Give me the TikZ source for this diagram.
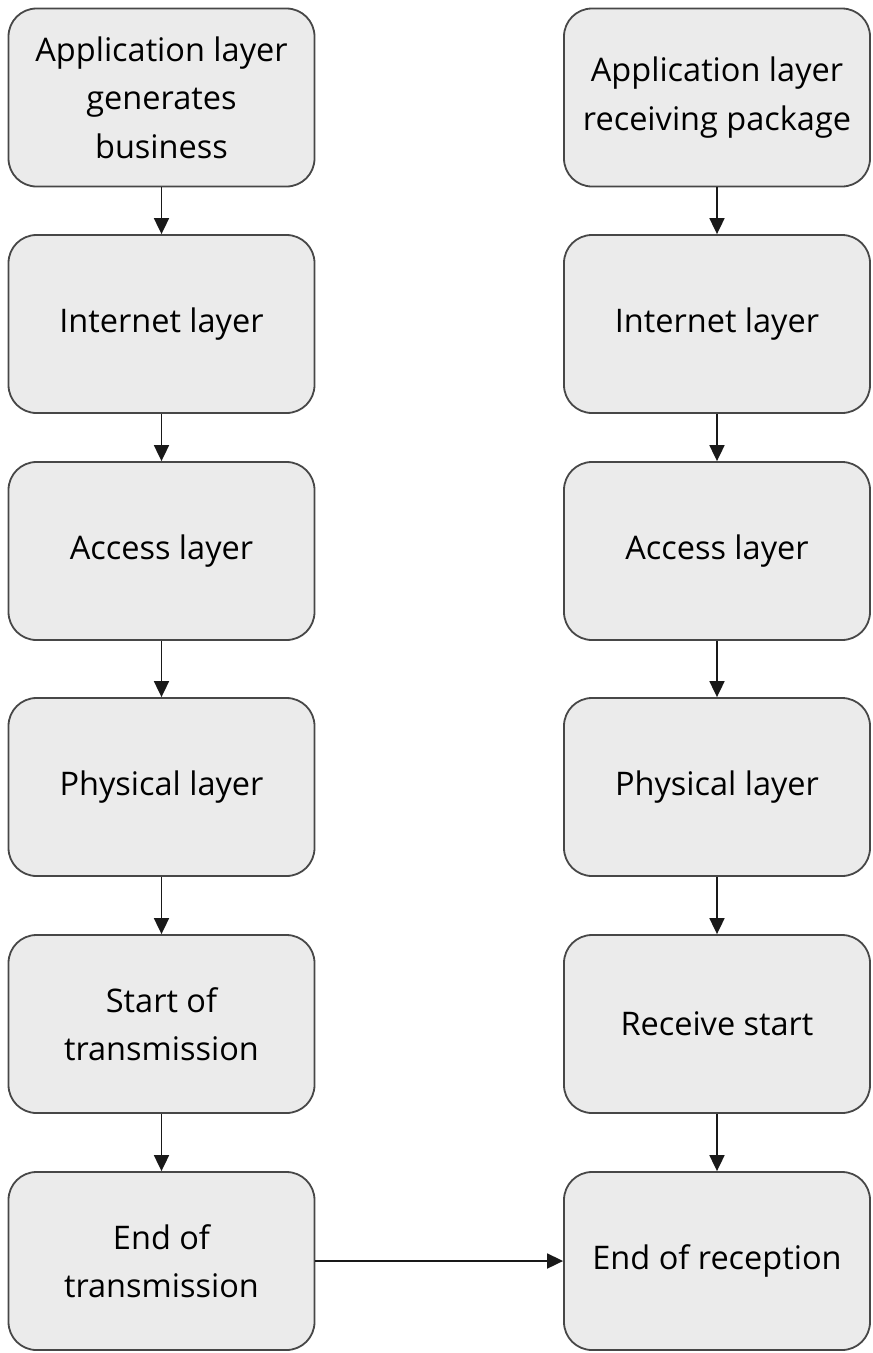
\documentclass[tikz,border=0pt]{standalone}
\usepackage{fontspec}
\setmainfont{Open Sans}
\usetikzlibrary{arrows.meta}
\begin{document}
\begin{tikzpicture}[x=1pt,y=-1pt,
  box/.style={draw=black!72, fill=black!8, line width=1.8pt, rounded corners=28pt,
    minimum width=306pt, minimum height=178pt, align=center, inner sep=0pt,
    font=\fontsize{32.5}{48.5}\selectfont},
  arr/.style={-{Triangle[length=16pt,width=15pt]}, line width=1.8pt, black!90}]
\useasboundingbox (0,0) rectangle (873,1353);
\node[box] (l1) at (161.5,97.5) {Application layer\\generates\\business};
\node[box] (l2) at (161.5,324) {Internet layer};
\node[box] (l3) at (161.5,551) {Access layer};
\node[box] (l4) at (161.5,787) {Physical layer};
\node[box] (l5) at (161.5,1024) {Start of\\transmission};
\node[box] (l6) at (161.5,1261) {End of\\transmission};
\node[box] (r1) at (717,97.5) {Application layer\\receiving package};
\node[box] (r2) at (717,324) {Internet layer};
\node[box] (r3) at (717,551) {Access layer};
\node[box] (r4) at (717,787) {Physical layer};
\node[box] (r5) at (717,1024) {Receive start};
\node[box] (r6) at (717,1261) {End of reception};
\foreach \a/\b in {l1/l2,l2/l3,l3/l4,l4/l5,l5/l6,r1/r2,r2/r3,r3/r4,r4/r5,r5/r6}
  \draw[arr] (\a) -- (\b);
\draw[arr] (l6) -- (r6);
\end{tikzpicture}
\end{document}
